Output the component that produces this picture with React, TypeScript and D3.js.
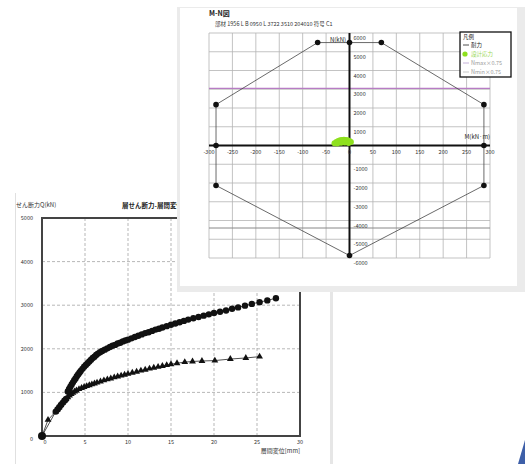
import React from "react";
import * as d3 from "d3";

// lower chart: shear force vs. storey drift
const driftTicks = [0, 5, 10, 15, 20, 25, 30];
const shearTicks = [0, 1000, 2000, 3000, 4000, 5000];

const circleDrift = [0, 1.6, 1.8, 2.0, 2.2, 2.4, 2.6, 2.8, 3.0, 3.15, 3.3, 3.45, 3.6, 3.75, 3.9, 4.05, 4.2, 4.35, 4.5, 4.7, 4.9, 5.1, 5.3, 5.5, 5.7, 5.9, 6.1, 6.3, 6.5, 6.75, 7.0, 7.3, 7.6, 7.9, 8.2, 8.5, 8.8, 9.1, 9.4, 9.7, 10.0, 10.4, 10.8, 11.2, 11.6, 12.0, 12.4, 12.8, 13.2, 13.6, 14.0, 14.5, 15.0, 15.5, 16.0, 16.5, 17.0, 17.6, 18.2, 18.8, 19.4, 20.0, 20.7, 21.4, 22.1, 22.8, 23.6, 24.4, 25.3, 26.2, 27.2];
const circleShear = [0, 560, 610, 660, 710, 760, 810, 850, 1020, 1080, 1130, 1180, 1230, 1280, 1320, 1370, 1410, 1450, 1490, 1540, 1590, 1630, 1670, 1710, 1750, 1790, 1820, 1860, 1890, 1920, 1950, 1980, 2010, 2040, 2070, 2090, 2120, 2140, 2170, 2190, 2210, 2240, 2270, 2300, 2330, 2360, 2380, 2410, 2440, 2460, 2490, 2520, 2550, 2580, 2610, 2640, 2670, 2700, 2730, 2760, 2790, 2820, 2850, 2880, 2920, 2950, 2990, 3030, 3070, 3110, 3160];

const triDrift = [0, 0.7, 1.6, 1.8, 2.0, 2.2, 2.4, 2.6, 2.8, 3.0, 3.2, 3.4, 3.6, 3.8, 4.0, 4.3, 4.6, 4.9, 5.2, 5.5, 5.8, 6.1, 6.4, 6.8, 7.2, 7.6, 8.0, 8.4, 8.8, 9.2, 9.6, 10.0, 10.5, 11.0, 11.5, 12.0, 12.5, 13.0, 13.5, 14.0, 14.5, 15.0, 15.7, 16.6, 17.5, 18.6, 20.1, 21.9, 23.7, 25.3];
const triShear = [0, 370, 560, 610, 660, 710, 760, 810, 850, 890, 930, 960, 990, 1020, 1045, 1075, 1100, 1125, 1145, 1165, 1185, 1205, 1225, 1250, 1275, 1300, 1320, 1345, 1365, 1385, 1405, 1425, 1450, 1475, 1500, 1520, 1545, 1565, 1585, 1605, 1625, 1645, 1670, 1695, 1710, 1720, 1730, 1765, 1790, 1820];

// M-N interaction chart
const mTicks = [-300, -250, -200, -150, -100, -50, 0, 50, 100, 150, 200, 250, 300];
const nTicks = [-6000, -5000, -4000, -3000, -2000, -1000, 0, 1000, 2000, 3000, 4000, 5000, 6000];

const capM = [-285, -285, -68, 0, 68, 287, 287, 287, 0, -285, -285];
const capN = [0, 2180, 5490, 5490, 5490, 2180, 0, -2130, -5870, -2130, 0];
const vertexM = [-285, -285, -68, 0, 68, 287, 287, 287, 0, -285];
const vertexN = [0, 2180, 5490, 5490, 5490, 2180, 0, -2130, -5870, -2130];

const designM = [-32, -28, -24, -20, -16, -12, -8, -4, 0, 3, -26, -18, -10, -2];
const designN = [120, 190, 240, 280, 300, 310, 300, 280, 240, 190, 110, 150, 160, 140];

const nMaxLine = 3050;
const nMinLine = -4400;

const legendItems = ["耐力", "設計応力", "Nmax×0.75", "Nmin×0.75"];

const font = "'Noto Sans CJK JP', 'Noto Sans', sans-serif";

export default function App() {
  const xD = d3.scaleLinear().domain([0, 30]).range([42, 300]);
  const yQ = d3.scaleLinear().domain([0, 5000]).range([436, 218]);

  const xM = d3.scaleLinear().domain([-300, 300]).range([209, 490]);
  const yN = d3.scaleLinear().domain([-6000, 6000]).range([258, 33]);

  const circlePts = circleDrift.map((d, i) => [xD(d), yQ(circleShear[i])] as [number, number]);
  const triPts = triDrift.map((d, i) => [xD(d), yQ(triShear[i])] as [number, number]);
  const line = d3.line();
  const tri = d3.symbol().type(d3.symbolTriangle).size(20);

  const capPath = line(capM.map((m, i) => [xM(m), yN(capN[i])] as [number, number]));

  return (
    <svg width={525} height={464} style={{ position: "absolute", left: 0, top: 0, background: "#fff" }} fontFamily={font}>
      {/* lower panel */}
      <rect x={15} y={193} width={317} height={275} fill="#fff" />
      <line x1={15.5} y1={193} x2={15.5} y2={464} stroke="#e0e0e0" />
      <rect x={330} y={290} width={3} height={174} fill="#e6e6e6" />
      <text x={16} y={207} fontSize={6} fill="#333">せん断力Q(kN)</text>
      <text x={122} y={208} fontSize={6.5} fontWeight="bold" fill="#222">層せん断力-層間変位</text>

      {driftTicks.slice(1, -1).map((t) => (
        <line key={"gx" + t} x1={xD(t)} x2={xD(t)} y1={yQ(5000)} y2={yQ(0)} stroke="#999" strokeDasharray="3,2" strokeWidth={0.7} />
      ))}
      {shearTicks.slice(1, -1).map((t) => (
        <line key={"gy" + t} x1={xD(0)} x2={xD(30)} y1={yQ(t)} y2={yQ(t)} stroke="#999" strokeDasharray="3,2" strokeWidth={0.7} />
      ))}
      <rect x={xD(0)} y={yQ(5000)} width={xD(30) - xD(0)} height={yQ(0) - yQ(5000)} fill="none" stroke="#444" strokeWidth={2} />
      {shearTicks.map((t) => (
        <text key={"ty" + t} x={33} y={yQ(t) + (t === 0 ? 5 : 2)} fontSize={5.5} textAnchor="end" fill="#333">{t}</text>
      ))}
      {driftTicks.map((t) => (
        <text key={"tx" + t} x={xD(t) + (t === 0 ? 3 : 0)} y={444} fontSize={5.5} textAnchor="middle" fill="#333">{t}</text>
      ))}
      <text x={300} y={453} fontSize={6} textAnchor="end" fill="#333">層間変位[mm]</text>

      <path d={line(triPts) || ""} fill="none" stroke="#222" strokeWidth={0.8} />
      <path d={line(circlePts) || ""} fill="none" stroke="#222" strokeWidth={0.8} />
      {triPts.map((p, i) => (
        <path key={"t" + i} d={tri() || ""} transform={`translate(${p[0]},${p[1]})`} fill="#111" />
      ))}
      {circlePts.map((p, i) => (
        <circle key={"c" + i} cx={p[0]} cy={p[1]} r={i === 0 ? 4 : 3.2} fill="#111" />
      ))}

      {/* M-N panel on top */}
      <rect x={177} y={7} width={348} height={285} fill="#ebebeb" />
      <rect x={180} y={8} width={337} height={278} fill="#fff" />
      <text x={209} y={16} fontSize={7} fontWeight="bold" fill="#222">M-N図</text>
      <text x={215} y={26} fontSize={5.5} fill="#333">部材 1956 L B 0950 L 3722 3510 204010  符号 C1</text>

      {mTicks.map((t) => (
        <line key={"mg" + t} x1={xM(t)} x2={xM(t)} y1={yN(6000)} y2={yN(-6000)} stroke="#b4b4b4" strokeWidth={0.8} />
      ))}
      {nTicks.map((t) => (
        <line key={"ng" + t} x1={xM(-300)} x2={xM(300)} y1={yN(t)} y2={yN(t)} stroke="#b4b4b4" strokeWidth={0.8} />
      ))}
      <line x1={xM(-300)} x2={xM(300)} y1={yN(nMaxLine)} y2={yN(nMaxLine)} stroke="#b77cc4" strokeWidth={1.2} />
      <line x1={xM(-300)} x2={xM(300)} y1={yN(nMinLine)} y2={yN(nMinLine)} stroke="#888" strokeWidth={1} />

      <line x1={xM(-300)} x2={xM(300)} y1={yN(0)} y2={yN(0)} stroke="#111" strokeWidth={2} />
      <line x1={xM(0)} x2={xM(0)} y1={yN(6000)} y2={yN(-6000)} stroke="#111" strokeWidth={2} />

      {mTicks.map((t) => (
        <text key={"mt" + t} x={xM(t)} y={yN(0) + 8} fontSize={5.5} textAnchor="middle" fill="#333">{t}</text>
      ))}
      {nTicks.filter((t) => t !== 0).map((t) => (
        <text key={"nt" + t} x={xM(0) + 4} y={yN(t) + 7} fontSize={5.5} fill="#333">{t}</text>
      ))}
      <text x={346} y={42} fontSize={6} textAnchor="end" fill="#222">N(kN)</text>
      <text x={490} y={139} fontSize={6} textAnchor="end" fill="#222">M(kN·m)</text>

      <path d={capPath || ""} fill="none" stroke="#444" strokeWidth={0.8} />
      {vertexM.map((m, i) => (
        <circle key={"v" + i} cx={xM(m)} cy={yN(vertexN[i])} r={2.8} fill="#111" />
      ))}
      {designM.map((m, i) => (
        <circle key={"g" + i} cx={xM(m)} cy={yN(designN[i])} r={3} fill="#8ee01e" />
      ))}

      <rect x={460} y={32} width={51} height={45} fill="#fff" stroke="#111" strokeWidth={1.3} />
      <text x={463} y={39} fontSize={5.5} fill="#222">凡例</text>
      <line x1={463} x2={469} y1={45} y2={45} stroke="#222" strokeWidth={0.8} />
      <text x={471} y={47} fontSize={5.5} fill="#222">{legendItems[0]}</text>
      <circle cx={465} cy={54} r={2.6} fill="#8ee01e" />
      <text x={471} y={56} fontSize={5.5} fill="#9bd85a">{legendItems[1]}</text>
      <line x1={463} x2={469} y1={63} y2={63} stroke="#b7a0d0" strokeWidth={0.8} />
      <text x={471} y={65} fontSize={5.5} fill="#999">{legendItems[2]}</text>
      <line x1={463} x2={469} y1={72} y2={72} stroke="#bbb" strokeWidth={0.8} />
      <text x={471} y={74} fontSize={5.5} fill="#999">{legendItems[3]}</text>

      <path d="M518,464 L525,440 L525,464 Z" fill="#3d5fa8" />
    </svg>
  );
}
